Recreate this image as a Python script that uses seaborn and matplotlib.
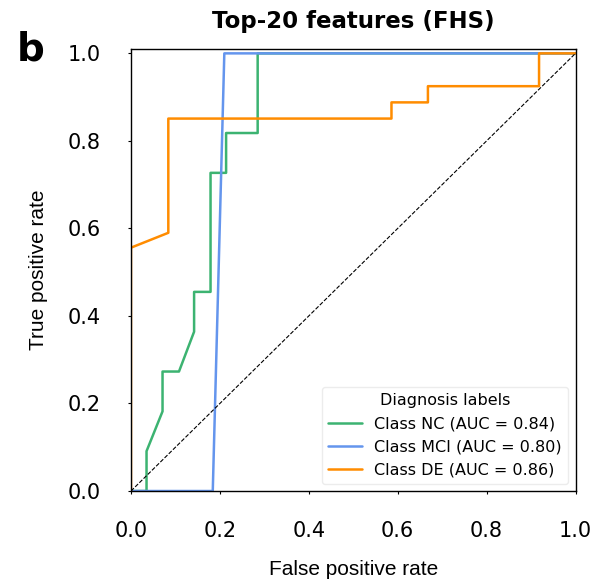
import matplotlib
matplotlib.use("Agg")
import matplotlib.pyplot as plt
import seaborn as sns
import pandas as pd

# ROC curve data
nc_fpr = [0.0, 0.035, 0.035, 0.071, 0.071, 0.108, 0.142, 0.142, 0.179, 0.179, 0.214, 0.214, 0.285, 0.285, 1.0]
nc_tpr = [0.0, 0.0, 0.091, 0.182, 0.273, 0.273, 0.364, 0.455, 0.455, 0.727, 0.727, 0.818, 0.818, 1.0, 1.0]
mci_fpr = [0.0, 0.184, 0.21, 1.0]
mci_tpr = [0.0, 0.0, 1.0, 1.0]
de_fpr = [0.0, 0.0, 0.084, 0.084, 0.586, 0.586, 0.668, 0.668, 0.918, 0.918, 1.0]
de_tpr = [0.0, 0.556, 0.59, 0.851, 0.851, 0.888, 0.888, 0.925, 0.925, 1.0, 1.0]
class_labels = ["Class NC (AUC = 0.84)", "Class MCI (AUC = 0.80)", "Class DE (AUC = 0.86)"]
colors = ["#3cb371", "#6495ed", "#ff8c00"]
x_ticks = [0.0, 0.2, 0.4, 0.6, 0.8, 1.0]

sns.set_style("white")
plt.rcParams['font.family'] = ['DejaVu Sans']
plt.rcParams['text.color'] = 'black'
plt.rcParams['axes.labelcolor'] = 'black'
plt.rcParams['xtick.color'] = 'black'
plt.rcParams['ytick.color'] = 'black'

fig = plt.figure(figsize=(6.03, 5.86), dpi=100)
ax = fig.add_axes([0.2172, 0.1621, 0.9544 - 0.2172, 0.9164 - 0.1621])

curves = [(nc_fpr, nc_tpr), (mci_fpr, mci_tpr), (de_fpr, de_tpr)]
for (fx, ty), lab, col in zip(curves, class_labels, colors):
    df = pd.DataFrame({"fpr": fx, "tpr": ty})
    sns.lineplot(data=df, x="fpr", y="tpr", sort=False, estimator=None,
                 color=col, lw=1.8, label=lab, ax=ax)

ax.plot([0, 1], [0, 1], "k--", lw=0.8)

ax.set_xlim(0, 1)
ax.set_ylim(0, 1.01)
ax.set_xticks(x_ticks)
ax.set_yticks(x_ticks)
ax.set_xticklabels([f"{t:.1f}" for t in x_ticks])
ax.set_yticklabels([f"{t:.1f}" for t in x_ticks])
ax.tick_params(axis="both", labelsize=15, length=2, width=0.8, pad=19.5,
               left=True, bottom=True, colors="black")

for s in ax.spines.values():
    s.set_visible(True)
    s.set_color("black")
    s.set_linewidth(1.0)

ax.set_xlabel("False positive rate", fontsize=15, family=["Liberation Sans"], labelpad=14, color="black")
ax.set_ylabel("True positive rate", fontsize=15, family=["Liberation Sans"], labelpad=14, color="black")
ax.set_title("Top-20 features (FHS)", fontsize=16.5, fontweight="bold", pad=15, color="black")

leg = ax.legend(title="Diagnosis labels", loc="lower right", fontsize=11.5,
                title_fontsize=11.5, frameon=True, borderaxespad=0.45, handlelength=2.1)
leg.get_frame().set_edgecolor("#e8e8e8")
leg.get_title().set_color("black")

fig.text(0.028, 0.896, "b", fontsize=28, fontweight="bold", ha="left", va="baseline", color="black")

fig.savefig("out.png", dpi=100)
